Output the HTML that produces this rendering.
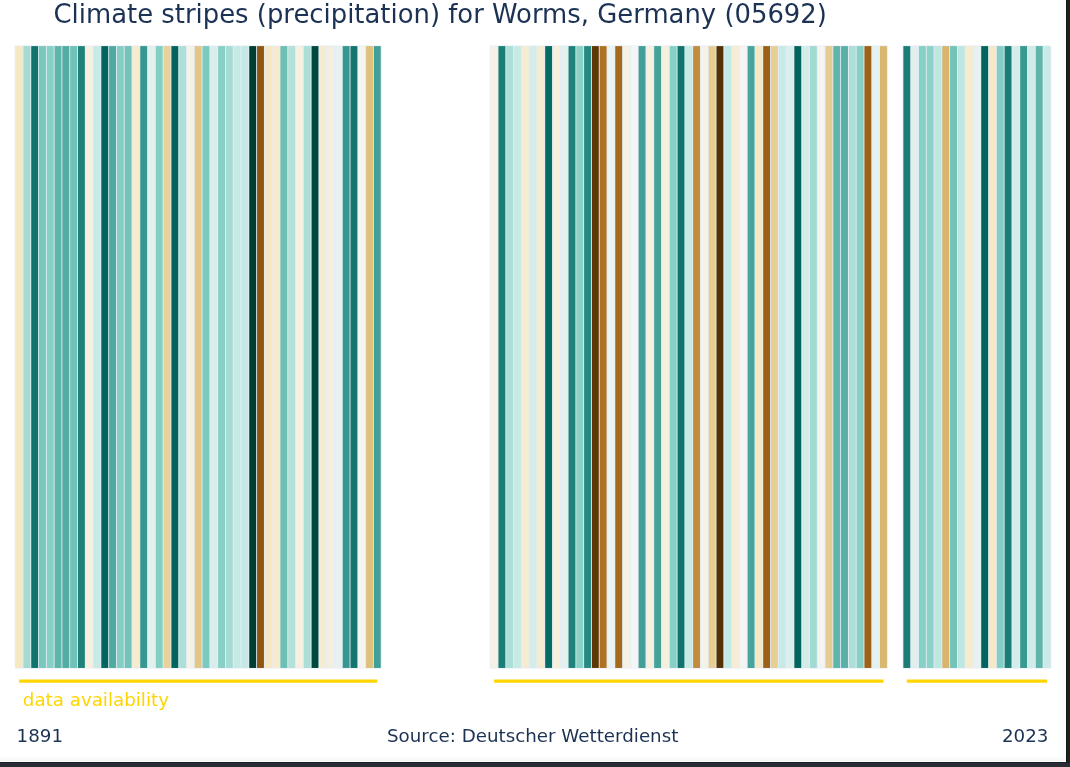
<!DOCTYPE html>
<html lang="en"><head><meta charset="utf-8"><title>Climate stripes (precipitation) for Worms, Germany (05692)</title>
<style>
html,body{margin:0;padding:0;background:#fff;overflow:hidden}
body{width:1070px;height:767px;position:relative;font-family:"DejaVu Sans","Liberation Sans",sans-serif;color:#1c3254}
#fig{position:absolute;left:0;top:0;width:1066px;height:762px;background:#fff;overflow:hidden}
#rb{position:absolute;left:1066px;top:0;width:4px;height:762px;background:#212121;border-left:1px solid #141414;box-sizing:border-box}
#bb{position:absolute;left:0;top:762px;width:1070px;height:5px;background:#292c35;border-top:1px solid #1c1f25;box-sizing:border-box}
#sh{position:absolute;left:0;top:756px;width:1065px;height:5.2px;background:linear-gradient(#fff,#f4f4f4)}
svg{position:absolute;left:0;top:0}
.t{position:absolute;white-space:nowrap;line-height:1}
#title{left:53.5px;top:2.2px;font-size:25.88px}
#avail{left:22.8px;top:690.6px;font-size:18.26px;color:#ffd500}
#y0{left:16.6px;top:727.3px;font-size:18.26px}
#y1{right:17.6px;top:727.3px;font-size:18.26px}
#src{left:0;width:1065.4px;text-align:center;top:727.3px;font-size:18.26px}
</style></head><body>
<div id="fig">
<svg width="1066" height="762" viewBox="0 0 1066 762">
<g><rect x="14.75" y="45.50" width="366.89" height="623.05" fill="#e5ecf6"/><rect x="489.76" y="45.50" width="398.04" height="623.05" fill="#e5ecf6"/><rect x="902.47" y="45.50" width="148.85" height="623.05" fill="#e5ecf6"/></g>
<g><rect x="15.65" y="46.1" width="6.887" height="621.85" fill="#f6e8c3"/><rect x="23.44" y="46.1" width="6.887" height="621.85" fill="#a3dbd3"/><rect x="31.22" y="46.1" width="6.887" height="621.85" fill="#10746c"/><rect x="39.01" y="46.1" width="6.887" height="621.85" fill="#79c8bc"/><rect x="46.80" y="46.1" width="6.887" height="621.85" fill="#87d0c5"/><rect x="54.59" y="46.1" width="6.887" height="621.85" fill="#5eb5aa"/><rect x="62.37" y="46.1" width="6.887" height="621.85" fill="#52aca3"/><rect x="70.16" y="46.1" width="6.887" height="621.85" fill="#70c1b6"/><rect x="77.95" y="46.1" width="6.887" height="621.85" fill="#1f827a"/><rect x="85.73" y="46.1" width="6.887" height="621.85" fill="#f5f0e0"/><rect x="93.52" y="46.1" width="6.887" height="621.85" fill="#c7eae5"/><rect x="101.31" y="46.1" width="6.887" height="621.85" fill="#01655d"/><rect x="109.09" y="46.1" width="6.887" height="621.85" fill="#4faaa1"/><rect x="116.88" y="46.1" width="6.887" height="621.85" fill="#84cfc3"/><rect x="124.67" y="46.1" width="6.887" height="621.85" fill="#73c3b8"/><rect x="132.45" y="46.1" width="6.887" height="621.85" fill="#f6ebcd"/><rect x="140.24" y="46.1" width="6.887" height="621.85" fill="#35978f"/><rect x="148.03" y="46.1" width="6.887" height="621.85" fill="#e2f0ee"/><rect x="155.82" y="46.1" width="6.887" height="621.85" fill="#84cfc3"/><rect x="163.60" y="46.1" width="6.887" height="621.85" fill="#e8d29a"/><rect x="171.39" y="46.1" width="6.887" height="621.85" fill="#01655d"/><rect x="179.18" y="46.1" width="6.887" height="621.85" fill="#abdfd7"/><rect x="186.96" y="46.1" width="6.887" height="621.85" fill="#f5f1e6"/><rect x="194.75" y="46.1" width="6.887" height="621.85" fill="#e2c787"/><rect x="202.54" y="46.1" width="6.887" height="621.85" fill="#7ccabe"/><rect x="210.32" y="46.1" width="6.887" height="621.85" fill="#d7eeeb"/><rect x="218.11" y="46.1" width="6.887" height="621.85" fill="#87d0c5"/><rect x="225.90" y="46.1" width="6.887" height="621.85" fill="#a6dcd4"/><rect x="233.69" y="46.1" width="6.887" height="621.85" fill="#c7eae5"/><rect x="241.47" y="46.1" width="6.887" height="621.85" fill="#c4e9e4"/><rect x="249.26" y="46.1" width="6.887" height="621.85" fill="#003c30"/><rect x="257.05" y="46.1" width="6.887" height="621.85" fill="#91560d"/><rect x="264.83" y="46.1" width="6.887" height="621.85" fill="#f6e8c3"/><rect x="272.62" y="46.1" width="6.887" height="621.85" fill="#f6ebcd"/><rect x="280.41" y="46.1" width="6.887" height="621.85" fill="#6dbfb4"/><rect x="288.19" y="46.1" width="6.887" height="621.85" fill="#b4e2db"/><rect x="295.98" y="46.1" width="6.887" height="621.85" fill="#f5f0e0"/><rect x="303.77" y="46.1" width="6.887" height="621.85" fill="#abdfd7"/><rect x="311.56" y="46.1" width="6.887" height="621.85" fill="#00483d"/><rect x="319.34" y="46.1" width="6.887" height="621.85" fill="#f6ecd3"/><rect x="327.13" y="46.1" width="6.887" height="621.85" fill="#f5efde"/><rect x="334.92" y="46.1" width="6.887" height="621.85" fill="#e6f1f0"/><rect x="342.70" y="46.1" width="6.887" height="621.85" fill="#35978f"/><rect x="350.49" y="46.1" width="6.887" height="621.85" fill="#12766e"/><rect x="358.28" y="46.1" width="6.887" height="621.85" fill="#f5f4f0"/><rect x="366.06" y="46.1" width="6.887" height="621.85" fill="#dec17b"/><rect x="373.85" y="46.1" width="6.887" height="621.85" fill="#419f97"/><rect x="490.66" y="46.1" width="6.887" height="621.85" fill="#f5f1e4"/><rect x="498.44" y="46.1" width="6.887" height="621.85" fill="#1a7e76"/><rect x="506.23" y="46.1" width="6.887" height="621.85" fill="#abdfd7"/><rect x="514.02" y="46.1" width="6.887" height="621.85" fill="#c7eae5"/><rect x="521.81" y="46.1" width="6.887" height="621.85" fill="#f6ecd3"/><rect x="529.59" y="46.1" width="6.887" height="621.85" fill="#d5edea"/><rect x="537.38" y="46.1" width="6.887" height="621.85" fill="#f6ebcf"/><rect x="545.17" y="46.1" width="6.887" height="621.85" fill="#066b63"/><rect x="552.95" y="46.1" width="6.887" height="621.85" fill="#f5efdc"/><rect x="560.74" y="46.1" width="6.887" height="621.85" fill="#e2f0ee"/><rect x="568.53" y="46.1" width="6.887" height="621.85" fill="#1f827a"/><rect x="576.31" y="46.1" width="6.887" height="621.85" fill="#8ad1c6"/><rect x="584.10" y="46.1" width="6.887" height="621.85" fill="#278a82"/><rect x="591.89" y="46.1" width="6.887" height="621.85" fill="#5f3606"/><rect x="599.68" y="46.1" width="6.887" height="621.85" fill="#af7222"/><rect x="607.46" y="46.1" width="6.887" height="621.85" fill="#ebf3f2"/><rect x="615.25" y="46.1" width="6.887" height="621.85" fill="#a5691b"/><rect x="623.04" y="46.1" width="6.887" height="621.85" fill="#f5f1e4"/><rect x="630.82" y="46.1" width="6.887" height="621.85" fill="#f4f5f5"/><rect x="638.61" y="46.1" width="6.887" height="621.85" fill="#419f97"/><rect x="646.40" y="46.1" width="6.887" height="621.85" fill="#f5f0e0"/><rect x="654.18" y="46.1" width="6.887" height="621.85" fill="#44a299"/><rect x="661.97" y="46.1" width="6.887" height="621.85" fill="#f5efde"/><rect x="669.76" y="46.1" width="6.887" height="621.85" fill="#87d0c5"/><rect x="677.55" y="46.1" width="6.887" height="621.85" fill="#10746c"/><rect x="685.33" y="46.1" width="6.887" height="621.85" fill="#c7eae5"/><rect x="693.12" y="46.1" width="6.887" height="621.85" fill="#c48b3a"/><rect x="700.91" y="46.1" width="6.887" height="621.85" fill="#f5f2e8"/><rect x="708.69" y="46.1" width="6.887" height="621.85" fill="#e6cd92"/><rect x="716.48" y="46.1" width="6.887" height="621.85" fill="#543005"/><rect x="724.27" y="46.1" width="6.887" height="621.85" fill="#c4e9e4"/><rect x="732.05" y="46.1" width="6.887" height="621.85" fill="#f6edd7"/><rect x="739.84" y="46.1" width="6.887" height="621.85" fill="#f5f4f2"/><rect x="747.63" y="46.1" width="6.887" height="621.85" fill="#47a49b"/><rect x="755.42" y="46.1" width="6.887" height="621.85" fill="#f6e8c3"/><rect x="763.20" y="46.1" width="6.887" height="621.85" fill="#9d6116"/><rect x="770.99" y="46.1" width="6.887" height="621.85" fill="#e7cf94"/><rect x="778.78" y="46.1" width="6.887" height="621.85" fill="#c7eae5"/><rect x="786.56" y="46.1" width="6.887" height="621.85" fill="#dbefec"/><rect x="794.35" y="46.1" width="6.887" height="621.85" fill="#01655d"/><rect x="802.14" y="46.1" width="6.887" height="621.85" fill="#d2ede9"/><rect x="809.92" y="46.1" width="6.887" height="621.85" fill="#a0dad1"/><rect x="817.71" y="46.1" width="6.887" height="621.85" fill="#f5f4f2"/><rect x="825.50" y="46.1" width="6.887" height="621.85" fill="#e5cc8f"/><rect x="833.29" y="46.1" width="6.887" height="621.85" fill="#5eb5aa"/><rect x="841.07" y="46.1" width="6.887" height="621.85" fill="#58b0a7"/><rect x="848.86" y="46.1" width="6.887" height="621.85" fill="#abdfd7"/><rect x="856.65" y="46.1" width="6.887" height="621.85" fill="#87d0c5"/><rect x="864.43" y="46.1" width="6.887" height="621.85" fill="#9f6317"/><rect x="872.22" y="46.1" width="6.887" height="621.85" fill="#e4f1ef"/><rect x="880.01" y="46.1" width="6.887" height="621.85" fill="#d9b76f"/><rect x="903.37" y="46.1" width="6.887" height="621.85" fill="#1a7e76"/><rect x="911.16" y="46.1" width="6.887" height="621.85" fill="#e0f0ee"/><rect x="918.94" y="46.1" width="6.887" height="621.85" fill="#87d0c5"/><rect x="926.73" y="46.1" width="6.887" height="621.85" fill="#8dd2c7"/><rect x="934.52" y="46.1" width="6.887" height="621.85" fill="#bfe7e1"/><rect x="942.30" y="46.1" width="6.887" height="621.85" fill="#d8b46c"/><rect x="950.09" y="46.1" width="6.887" height="621.85" fill="#73c3b8"/><rect x="957.88" y="46.1" width="6.887" height="621.85" fill="#bfe7e1"/><rect x="965.66" y="46.1" width="6.887" height="621.85" fill="#f6ebcd"/><rect x="973.45" y="46.1" width="6.887" height="621.85" fill="#e6f1f0"/><rect x="981.24" y="46.1" width="6.887" height="621.85" fill="#01655d"/><rect x="989.03" y="46.1" width="6.887" height="621.85" fill="#f6e8c3"/><rect x="996.81" y="46.1" width="6.887" height="621.85" fill="#84cfc3"/><rect x="1004.60" y="46.1" width="6.887" height="621.85" fill="#1a7e76"/><rect x="1012.39" y="46.1" width="6.887" height="621.85" fill="#d5edea"/><rect x="1020.17" y="46.1" width="6.887" height="621.85" fill="#389991"/><rect x="1027.96" y="46.1" width="6.887" height="621.85" fill="#d0ece8"/><rect x="1035.75" y="46.1" width="6.887" height="621.85" fill="#5eb5aa"/><rect x="1043.53" y="46.1" width="6.887" height="621.85" fill="#c9eae6"/></g>
<g stroke="#ffd500" stroke-width="3.3"><line x1="19.09" y1="681.05" x2="377.30" y2="681.05"/><line x1="494.10" y1="681.05" x2="883.45" y2="681.05"/><line x1="906.81" y1="681.05" x2="1046.98" y2="681.05"/></g>
</svg>
<div id="sh"></div>
<div class="t" id="title">Climate stripes (precipitation) for Worms, Germany (05692)</div>
<div class="t" id="avail">data availability</div>
<div class="t" id="y0">1891</div>
<div class="t" id="src">Source: Deutscher Wetterdienst</div>
<div class="t" id="y1">2023</div>
</div>
<div id="rb"></div><div id="bb"></div>
</body></html>
